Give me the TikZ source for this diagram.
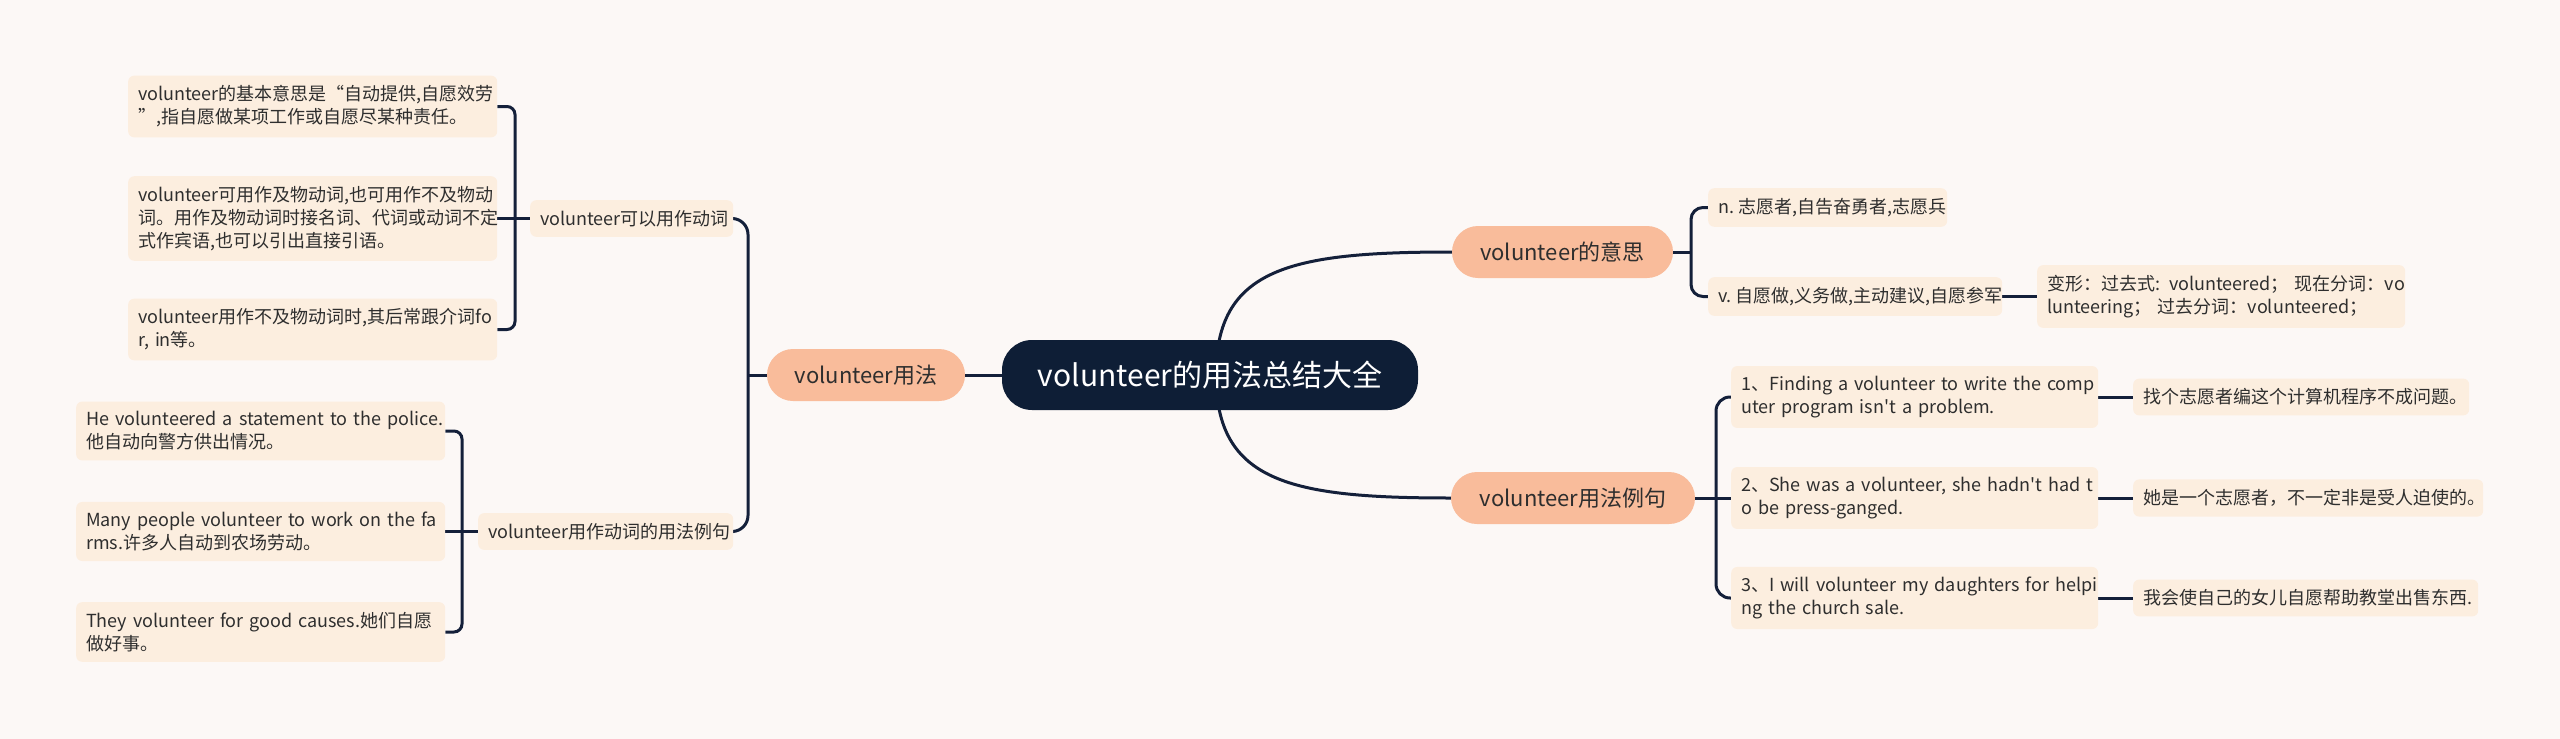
\documentclass[tikz,border=0pt]{standalone}
\usepackage{fontspec}
\setmainfont{Noto Sans CJK SC}[Ligatures=TeXOff]
\definecolor{bgc}{HTML}{FCF8F6}
\definecolor{navy}{HTML}{0E1E36}
\definecolor{salmon}{HTML}{F9BC9B}
\definecolor{peach}{HTML}{FCEEDF}
\definecolor{linec}{HTML}{14203A}
\definecolor{txt}{HTML}{2E2E2E}
\pgfdeclarelayer{back}
\pgfdeclarelayer{links}
\pgfsetlayers{back,links,main}
\begin{document}
\begin{tikzpicture}[x=1pt,y=-1pt,
  link/.style={draw=linec, line width=3pt},
  centralbox/.style={fill=navy, text=white, rounded corners=30pt, minimum width=416pt, minimum height=70pt, inner sep=0pt, font=\fontsize{30}{36}\selectfont},
  lvlone/.style={fill=salmon, text=txt, rounded corners=26pt, minimum height=52pt, inner sep=0pt, font=\fontsize{22}{26}\selectfont},
  leaf/.style={fill=peach, text=txt, rounded corners=6pt, inner xsep=10pt, inner ysep=10pt, align=left, anchor=west, font=\fontsize{18}{23}\selectfont},
]
\begin{pgfonlayer}{back}
\fill[bgc] (0,0) rectangle (2560,739);
\end{pgfonlayer}
\useasboundingbox (0,0) rectangle (2560,739);

% central and level one
\node[centralbox] (central) at (1210,375) {volunteer的用法总结大全};
\node[lvlone, minimum width=198pt] (yongfa) at (866,375) {volunteer用法};
\node[lvlone, minimum width=221pt] (yisi) at (1562.5,252) {volunteer的意思};
\node[lvlone, minimum width=244pt] (liju) at (1573,498) {volunteer用法例句};

% left level two
\node[leaf, text width=183pt] (Ltwoa) at (530,218.5) {volunteer可以用作动词};
\node[leaf, text width=235pt] (Ltwob) at (478,531.5) {volunteer用作动词的用法例句};

% group A
\node[leaf, text width=349pt] (Aone) at (128,106.5) {volunteer的基本意思是“自动提供,自愿效劳\\”,指自愿做某项工作或自愿尽某种责任。};
\node[leaf, text width=349pt] (Atwo) at (128,218.5) {volunteer可用作及物动词,也可用作不及物动\\词。用作及物动词时接名词、代词或动词不定\\式作宾语,也可以引出直接引语。};
\node[leaf, text width=349pt] (Athree) at (128,329.5) {volunteer用作不及物动词时,其后常跟介词fo\\\mbox{r, in等。}};

% group B
\node[leaf, text width=349pt] (Bone) at (76,431) {\mbox{He volunteered a statement to the police.}\\他自动向警方供出情况。};
\node[leaf, text width=349pt] (Btwo) at (76,531.5) {\mbox{Many people volunteer to work on the fa}\\rms.许多人自动到农场劳动。};
\node[leaf, text width=349pt] (Bthree) at (76,632) {\mbox{They volunteer for good causes.她们自愿}\\做好事。};

% right: meaning
\node[leaf, text width=219pt] (nleaf) at (1708,207.5) {\mbox{n.\hspace{4pt}志愿者,自告奋勇者,志愿兵}};
\node[leaf, text width=274pt] (vleaf) at (1708,296.5) {\mbox{v.\hspace{4pt}自愿做,义务做,主动建议,自愿参军}};
\node[leaf, text width=348pt] (bx) at (2037,296.5) {\mbox{变形：过去式: volunteered； 现在分词：vo}\\\mbox{lunteering； 过去分词：volunteered；}};

% right: examples
\node[leaf, text width=347pt] (Eone) at (1731,397) {\mbox{1、Finding a volunteer to write the comp}\\\mbox{uter program isn't a problem.}};
\node[leaf, text width=347pt] (Etwo) at (1731,498) {\mbox{2、She was a volunteer, she hadn't had t}\\\mbox{o be press-ganged.}};
\node[leaf, text width=347pt] (Ethree) at (1731,598) {\mbox{3、I will volunteer my daughters for helpi}\\\mbox{ng the church sale.}};
\node[leaf, text width=316pt] (Tone) at (2133,397) {找个志愿者编这个计算机程序不成问题。};
\node[leaf, text width=330pt] (Ttwo) at (2133,498) {她是一个志愿者，不一定非是受人迫使的。};
\node[leaf, text width=325pt] (Tthree) at (2133,598) {我会使自己的女儿自愿帮助教堂出售东西.};

% junction coordinates
\coordinate (czero) at (1216,375);
\coordinate (jY) at (748,375);
\coordinate (jA) at (515,218.5);
\coordinate (jB) at (462,531.5);
\coordinate (jM) at (1691,252);
\coordinate (jL) at (1716,498);

\begin{pgfonlayer}{links}
\draw[link] (czero) .. controls (1216,268) and (1290,252) .. (yisi.west);
\draw[link] (czero) .. controls (1216,482) and (1290,498) .. (liju.west);
\draw[link] (central.west) -- (yongfa.east);
\draw[link] (yongfa.west) -- (jY);
\draw[link, rounded corners=16pt] (Ltwoa.east) -| (jY) |- (Ltwob.east);
\draw[link, rounded corners=8pt] (Aone.east) -| (jA) |- (Athree.east);
\draw[link] (Atwo.east) -- (Ltwoa.west);
\draw[link, rounded corners=8pt] (Bone.east) -| (jB) |- (Bthree.east);
\draw[link] (Btwo.east) -- (Ltwob.west);
\draw[link] (yisi.east) -- (jM);
\draw[link, rounded corners=12pt] (nleaf.west) -| (jM) |- (vleaf.west);
\draw[link] (vleaf.east) -- (bx.west);
\draw[link] (liju.east) -- (Etwo.west);
\draw[link, rounded corners=14pt] (Eone.west) -| (jL) |- (Ethree.west);
\draw[link] (Eone.east) -- (Tone.west);
\draw[link] (Etwo.east) -- (Ttwo.west);
\draw[link] (Ethree.east) -- (Tthree.west);
\end{pgfonlayer}
\end{tikzpicture}
\end{document}
